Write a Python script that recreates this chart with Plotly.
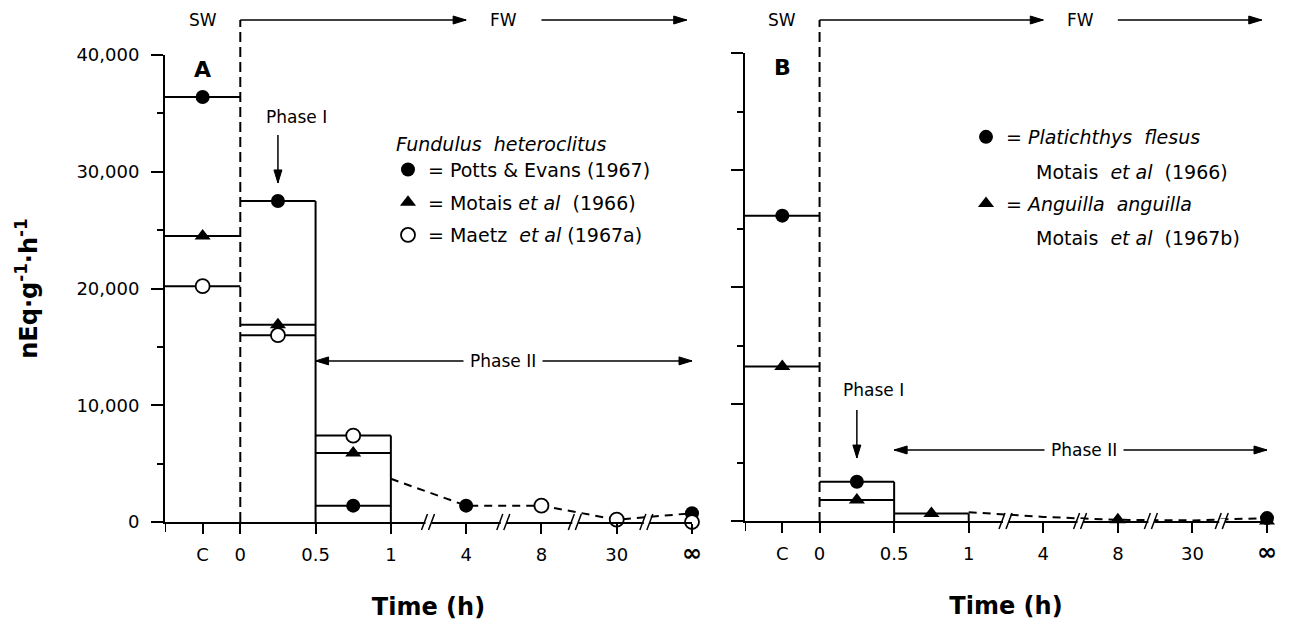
import plotly.graph_objects as go

# ---------------- data ----------------
x_labels = ["C", "0", "0.5", "1", "4", "8", "30", "<span style='font-size:24px'><b>∞</b></span>"]
late_times = ["1", "4", "8", "30", "∞"]

y_ticks = [0, 10000, 20000, 30000, 40000]
y_minor = [5000, 15000, 25000, 35000]

# Panel A : Fundulus heteroclitus
a_potts_bins = [36400, 27500, 1400]
a_motais_bins = [24500, 16900, 5900]
a_maetz_bins = [20200, 16000, 7400]
a_potts_late_t = ["4", "∞"]
a_potts_late = [1400, 750]
a_motais_late_t = []
a_motais_late = []
a_maetz_late_t = ["8", "30", "∞"]
a_maetz_late = [1400, 200, 0]
a_trend = [3700, 1400, 1400, 200, 750]          # dashed line at late_times

# Panel B : Platichthys flesus / Anguilla anguilla
b_plat_bins = [26100, 3350, None]
b_ang_bins = [13200, 1800, 650]
b_plat_late_t = ["∞"]
b_plat_late = [250]
b_ang_late_t = ["8", "∞"]
b_ang_late = [100, 0]
b_trend = [750, 350, 100, 50, 250]

# ---------------- layout helpers ----------------
W, H = 1292, 624
OFF = 8            # page body margin of the html page
FONT = "DejaVu Sans"
BLACK = "black"

# broken time axis: slot of each label on the numeric axis
slot = {"C": -0.5, "0": 0, "0.5": 1, "1": 2, "4": 3, "8": 4, "30": 5, "∞": 6}
tick_slots = [-0.5, 0, 1, 2, 3, 4, 5, 6]
bin_edges = [(-1, 0), (0, 1), (1, 2)]
break_pos = [2.5, 3.5, 4.45, 5.4]


def fx(p):
    return (p - OFF) / W


def fy(p):
    return 1 - (p - OFF) / H


def box_lines(series_list):
    xs, ys = [], []
    for vals in series_list:
        for (x0, x1), v in zip(bin_edges, vals):
            if v is None:
                continue
            xs += [x0, x1, None]
            ys += [v, v, None]
    for i in (1, 2):
        top = max(s[i] for s in series_list if s[i] is not None)
        xe = bin_edges[i][1]
        xs += [xe, xe, None]
        ys += [0, top, None]
    return xs, ys


def point_xy(bins, late_t, late_v):
    xs, ys = [], []
    for (x0, x1), v in zip(bin_edges, bins):
        if v is not None:
            xs.append((x0 + x1) / 2)
            ys.append(v)
    for t, v in zip(late_t, late_v):
        xs.append(slot[t])
        ys.append(v)
    return xs, ys


fig = go.Figure()

filled_circle = dict(symbol="circle", size=14, color=BLACK)
triangle = dict(symbol="triangle-up", size=14, color=BLACK)
open_circle = dict(symbol="circle", size=14, color="white", line=dict(color=BLACK, width=1.8))

panels = [
    dict(xa="x", ya="y", legend="legend",
         boxes=[a_potts_bins, a_motais_bins, a_maetz_bins], trend=a_trend,
         series=[("= Potts & Evans (1967)", a_potts_bins, a_potts_late_t, a_potts_late, filled_circle),
                 ("= Motais <i>et al</i>  (1966)", a_motais_bins, a_motais_late_t, a_motais_late, triangle),
                 ("= Maetz  <i>et al</i> (1967a)", a_maetz_bins, a_maetz_late_t, a_maetz_late, open_circle)]),
    dict(xa="x2", ya="y2", legend="legend2",
         boxes=[b_plat_bins, b_ang_bins], trend=b_trend,
         series=[("= <i>Platichthys  flesus</i>", b_plat_bins, b_plat_late_t, b_plat_late, filled_circle),
                 ("= <i>Anguilla  anguilla</i>", b_ang_bins, b_ang_late_t, b_ang_late, triangle)]),
]

for p in panels:
    bx, by = box_lines(p["boxes"])
    fig.add_trace(go.Scatter(x=bx, y=by, mode="lines", line=dict(color=BLACK, width=2),
                             xaxis=p["xa"], yaxis=p["ya"], showlegend=False,
                             cliponaxis=False, hoverinfo="skip"))
    fig.add_trace(go.Scatter(x=[slot[t] for t in late_times], y=p["trend"], mode="lines",
                             line=dict(color=BLACK, width=2, dash="8px,6px"),
                             xaxis=p["xa"], yaxis=p["ya"], showlegend=False,
                             cliponaxis=False, hoverinfo="skip"))
    for k, (name, bins, lt, lv, mk) in enumerate(p["series"]):
        px_, py_ = point_xy(bins, lt, lv)
        fig.add_trace(go.Scatter(x=px_, y=py_, mode="markers", marker=mk, name=name,
                                 xaxis=p["xa"], yaxis=p["ya"], legend=p["legend"],
                                 legendgroup=p["legend"] + str(k), cliponaxis=False))

tickfont = dict(family=FONT, size=18, color=BLACK)
xcommon = dict(range=[-1, 6], tickvals=tick_slots, ticktext=x_labels,
               showline=True, linewidth=2, linecolor=BLACK, automargin=False,
               ticks="outside", ticklen=10, tickwidth=2, tickcolor=BLACK,
               showgrid=False, zeroline=False, tickfont=tickfont, ticklabelstandoff=5,
               title=dict(text="<b>Time (h)</b>", font=dict(family=FONT, size=24, color=BLACK), standoff=33))
ycommon = dict(range=[0, 40000], tickvals=y_ticks, ticktext=[f"{v:,}" for v in y_ticks],
               showline=True, linewidth=2, linecolor=BLACK, ticks="outside", ticklen=12,
               tickwidth=2, tickcolor=BLACK, showgrid=False, zeroline=False, automargin=False,
               minor=dict(tickvals=y_minor, ticks="outside", ticklen=6, tickwidth=2, tickcolor=BLACK),
               tickfont=tickfont, ticklabelstandoff=8)

legfont = dict(family=FONT, size=19, color=BLACK)
fig.update_layout(
    width=W, height=H, margin=dict(l=0, r=0, t=0, b=0, autoexpand=False),
    font=dict(family=FONT, size=18, color=BLACK),
    paper_bgcolor="white", plot_bgcolor="white",
    xaxis=dict(xcommon, domain=[fx(165), fx(692)], anchor="y"),
    yaxis=dict(ycommon, domain=[fy(522), fy(55)], anchor="x",
               title=dict(text="<b>nEq·g<sup>-1</sup>·h<sup>-1</sup></b>",
                          font=dict(family=FONT, size=24, color=BLACK), standoff=32)),
    xaxis2=dict(xcommon, domain=[fx(745), fx(1267)], anchor="y2"),
    yaxis2=dict(ycommon, domain=[fy(521), fy(53)], anchor="x2", showticklabels=False),
    legend=dict(x=fx(388), y=fy(126), xanchor="left", yanchor="top", bgcolor="rgba(0,0,0,0)",
                font=legfont, tracegroupgap=5, itemwidth=30,
                title=dict(text=" <i>Fundulus  heteroclitus</i>", font=legfont)),
    legend2=dict(x=fx(966), y=fy(118), xanchor="left", yanchor="top", bgcolor="rgba(0,0,0,0)",
                 font=legfont, tracegroupgap=39, itemwidth=30),
    showlegend=True,
)

ann = []
shapes = []
txt = dict(family=FONT, size=17, color=BLACK)
AW = 1.5
HEAD = {"down": "M0,0 L-4,13 L4,13 Z", "right": "M0,0 L-13,-4 L-13,4 Z", "left": "M0,0 L13,-4 L13,4 Z"}


def arrow(xref, yref, x0, y0, x1, y1, heads):
    out = [dict(type="line", xref=xref, yref=yref, x0=x0, y0=y0, x1=x1, y1=y1,
                line=dict(color=BLACK, width=AW))]
    for (hx, hy, d) in heads:
        out.append(dict(type="path", xref=xref, yref=yref, xsizemode="pixel", ysizemode="pixel",
                        xanchor=hx, yanchor=hy, path=HEAD[d], fillcolor=BLACK,
                        line=dict(color=BLACK, width=1)))
    return out


TOP = fy(20)
for xa, ya, letter, ph1_text, ph1_tail, ph1_head, ph2_y, ph2_x in [
        ("x", "y", "A", (0.75, 34700), 33150, 29040, 13800, 3.49),
        ("x2", "y2", "B", (0.72, 11200), 9490, 5380, 6070, 3.55)]:
    # SW -> FW header
    ann.append(dict(xref=xa, yref="paper", x=-0.5, y=TOP, yanchor="middle", text="SW",
                    showarrow=False, font=txt))
    ann.append(dict(xref=xa, yref="paper", x=3.5, y=TOP, yanchor="middle", text="FW",
                    showarrow=False, font=txt))
    shapes += arrow(xa, "paper", 0, TOP, 3.0, TOP, [(3.0, TOP, "right")])
    shapes += arrow(xa, "paper", 4.0, TOP, 5.93, TOP, [(5.93, TOP, "right")])
    shapes.append(dict(type="line", xref=xa, yref="paper", x0=0, x1=0, y0=fy(522), y1=TOP,
                       line=dict(color=BLACK, width=2, dash="10px,5px")))
    # corner tick of the time axis
    shapes.append(dict(type="line", xref=xa, yref=ya + " domain", ysizemode="pixel", yanchor=0,
                       x0=-1, x1=-1, y0=0, y1=-10, line=dict(color=BLACK, width=2)))
    # panel letter
    ann.append(dict(xref=xa, yref=ya, x=-0.5, y=38800, text=f"<b>{letter}</b>", showarrow=False,
                    font=dict(family=FONT, size=22, color=BLACK)))
    # Phase I
    ann.append(dict(xref=xa, yref=ya, x=ph1_text[0], y=ph1_text[1], text="Phase I",
                    showarrow=False, font=txt))
    shapes += arrow(xa, ya, 0.5, ph1_tail, 0.5, ph1_head, [(0.5, ph1_head, "down")])
    # Phase II
    shapes += arrow(xa, ya, 1, ph2_y, 6, ph2_y, [(1, ph2_y, "left"), (6, ph2_y, "right")])
    ann.append(dict(xref=xa, yref=ya, x=ph2_x, y=ph2_y, text="Phase II", showarrow=False, font=txt,
                    bgcolor="white", borderpad=6))
    # axis breaks
    for bp in break_pos:
        shapes.append(dict(type="line", xref=xa, yref=ya + " domain", xsizemode="pixel", ysizemode="pixel",
                           xanchor=bp, yanchor=0, x0=-3, x1=3, y0=0, y1=0,
                           line=dict(color="white", width=4)))
        for off in (-4, 3):
            shapes.append(dict(type="line", xref=xa, yref=ya + " domain", xsizemode="pixel",
                               ysizemode="pixel", xanchor=bp, yanchor=0,
                               x0=off - 3, x1=off + 3, y0=-8, y1=8,
                               line=dict(color=BLACK, width=1.5)))

# second lines of legend B entries
for yy, t in [(172, "Motais  <i>et al</i>  (1966)"), (238, "Motais  <i>et al</i>  (1967b)")]:
    ann.append(dict(xref="paper", yref="paper", x=fx(1034), y=fy(yy), xanchor="left", yanchor="middle",
                    text=t, showarrow=False, font=legfont))

fig.update_layout(annotations=ann, shapes=shapes)
fig.write_html("out.html")
